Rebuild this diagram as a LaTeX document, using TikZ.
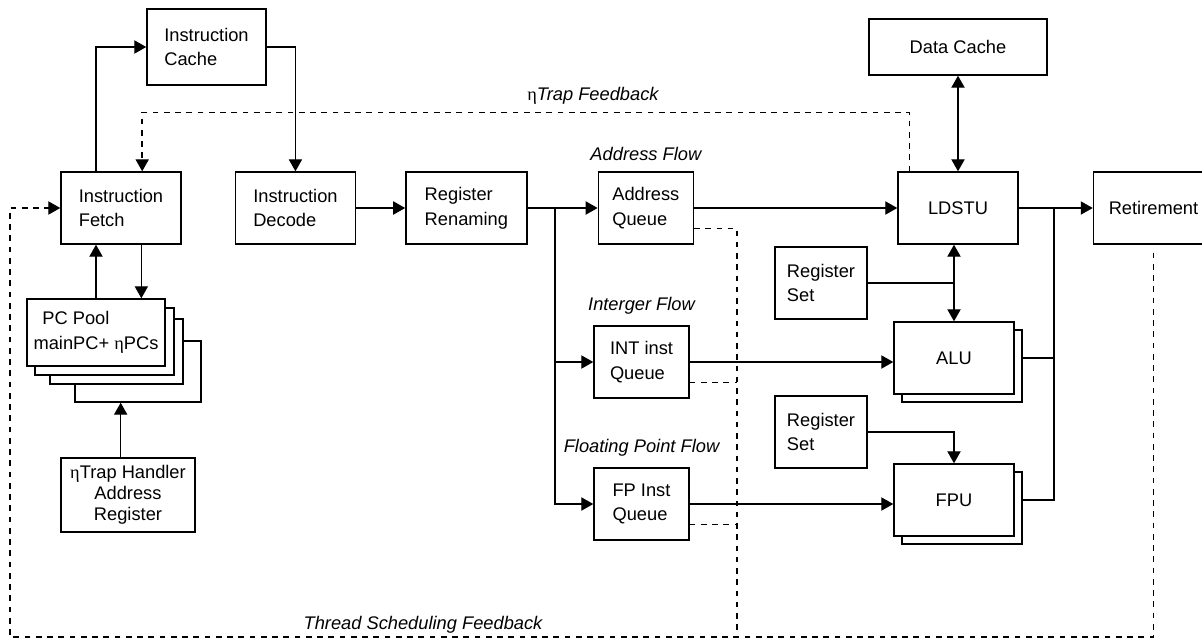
\documentclass[tikz,border=0pt]{standalone}
\usepackage{fontspec}
\setmainfont{Liberation Sans}
\newfontfamily\greekfont{Liberation Serif}
\newcommand{\etasym}{{\upshape\greekfont η}}
\usetikzlibrary{positioning}
\usetikzlibrary{arrows.meta}

\begin{document}
\begin{tikzpicture}[x=0.025cm, y=-0.025cm,
        font=\fontsize{13}{17.5}\selectfont,
        block/.style={rectangle, draw=black, line width=1pt, fill=white, align=left, inner sep=0pt, minimum width=3cm, minimum height=1.8cm},
        narrow/.style={block, minimum width=2.375cm},
        flow/.style={font=\fontsize{13}{17.5}\selectfont\itshape},
        arr/.style={line width=1pt, -{Triangle[length=0.3cm,width=0.33cm]}},
        link/.style={line width=1pt},
        dbl/.style={line width=1pt, {Triangle[length=0.3cm,width=0.33cm]}-{Triangle[length=0.3cm,width=0.33cm]}},
        fb/.style={line width=1pt, dash pattern=on 4pt off 4pt}
        ]
        \useasboundingbox (0,0) rectangle (1202,639);
        \clip (0,0) rectangle (1202,639);
        % front end
        \node (icache) [block, minimum width=2.975cm, minimum height=1.9cm] at (206.5,47) {Instruction\\Cache};
        \node (ifetch) [block] at (121,208) {Instruction\\Fetch};
        \node (idecode) [block, right=1.325cm of ifetch] {Instruction\\Decode};
        \node (rename) [block, minimum width=3.025cm, right=1.225cm of idecode] {Register\\Renaming};
        \node (addrq) [narrow, right=1.75cm of rename] {Address\\Queue};
        \node (intq) [narrow] at (641.5,362) {INT inst\\Queue};
        \node (fpq) [narrow] at (641.5,504) {FP Inst\\Queue};
        \node (addrflow) [flow, above=0.15cm of addrq] {Address Flow};
        \node (intflow) [flow, above=0.15cm of intq] {Interger Flow};
        \node (fpflow) [flow, above=0.15cm of fpq] {Floating Point Flow};
        % back end
        \node (dcache) [block, minimum width=4.45cm, minimum height=1.4cm, align=center] at (958,47) {Data Cache};
        \node (ldstu) [block, align=center] at (958,208) {LDSTU};
        \node (retire) [block, align=center, right=1.85cm of ldstu] {Retirement};
        \node (regset1) [block, minimum width=2.3cm] at (821,283) {Register\\Set};
        \node (regset2) [block, minimum width=2.3cm] at (821,432) {Register\\Set};
        \node (alub) [block] at (962,366) {};
        \node (alu) [block, align=center] at (954,358) {ALU};
        \node (fpub) [block] at (962,508) {};
        \node (fpu) [block, align=center] at (954,500) {FPU};
        % PC pool
        \node (pc4) [block, minimum width=3.15cm, minimum height=1.525cm] at (138,371.5) {};
        \node (pc3) [block, minimum width=3.325cm, minimum height=1.625cm] at (116.5,351.5) {};
        \node (pc2) [block, minimum width=3.475cm, minimum height=1.675cm] at (104.5,341.5) {};
        \node (pcpool) [block, minimum width=3.45cm, minimum height=1.675cm] at (96,332.5) {\hspace*{0.22cm}PC Pool\\mainPC+ \etasym PCs};
        \node (trap) [block, minimum width=3.35cm, minimum height=1.85cm, align=center, font=\fontsize{13}{15}\selectfont] at (128,495) {\etasym Trap Handler\\Address\\Register};
        \node (trapfb) [flow] at (593,96) {\etasym Trap Feedback};
        \node (tsfb) [flow] at (423,625) {Thread Scheduling Feedback};
        \coordinate (split) at (555,208);
        \coordinate (merge) at (1054,208);
        \coordinate (qdrop) at (737,637);
        \coordinate (tsb) at (10,637);
        % data paths
        \draw[arr] (ifetch.north -| pcpool.north) |- (icache.west);
        \draw[arr] (icache.east) -| (idecode.north);
        \draw[arr] (idecode) -- (rename);
        \draw[arr] (rename) -- (addrq);
        \draw[arr] (split) |- (intq.west);
        \draw[arr] (split) |- (fpq.west);
        \draw[arr] (addrq) -- (ldstu);
        \draw[arr] (intq.east) -- (intq.east -| alu.west);
        \draw[arr] (fpq.east) -- (fpq.east -| fpu.west);
        \draw[arr] (ldstu) -- (retire);
        \draw[link] (alub.east |- alu.east) -| (merge);
        \draw[link] (fpub.east |- fpu.east) -| (merge);
        \draw[dbl] (dcache) -- (ldstu);
        \draw[dbl] (alu.north |- ldstu.south) -- (alu.north);
        \draw[link] (regset1) -- (regset1 -| alu.north);
        \draw[arr] (regset2) -| (fpu.north);
        \draw[arr] (pcpool.north) -- (pcpool.north |- ifetch.south);
        \draw[arr] (ifetch.-61) -- (ifetch.-61 |- pcpool.north);
        \draw[arr] (trap.101) -- (trap.101 |- pc4.south);
        % feedback
        \draw[fb, arr] (ldstu.143) -- ++(0,-59) -| (ifetch.60);
        \draw[fb, arr] ([yshift=-0.2cm]retire.south) |- (tsb) |- (ifetch.west);
        \draw[fb] (addrq.-23) -| (qdrop);
        \draw[fb] (intq.-23) -- (intq.-23 -| qdrop);
        \draw[fb] (fpq.-23) -- (fpq.-23 -| qdrop);
\end{tikzpicture}
\end{document}
